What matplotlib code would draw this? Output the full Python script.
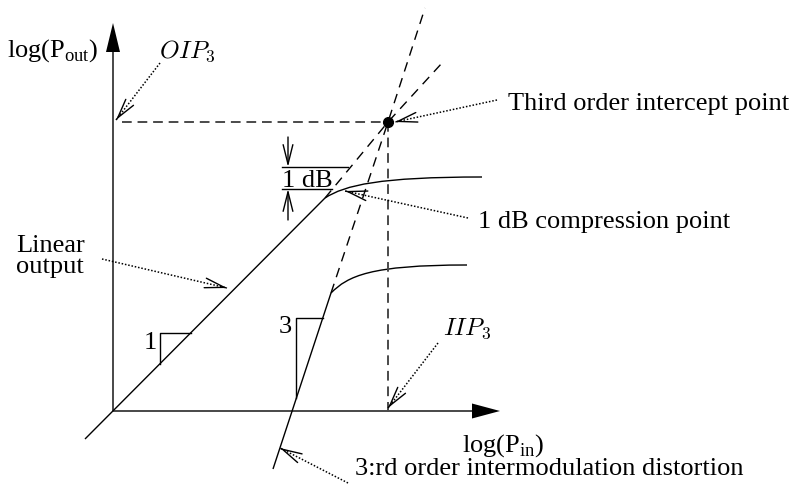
import matplotlib
matplotlib.use("Agg")
import numpy as np
import matplotlib.pyplot as plt
from matplotlib.path import Path
from matplotlib.patches import PathPatch

plt.rcParams["font.family"] = ["Liberation Serif", "DejaVu Serif"]

# ---- diagram quantities (log-power units, origin at the axes corner) ----
IIP3 = 275
OIP3 = 289

# fundamental: linear region, extrapolation and compression
fund_lin_x = [-28, 212]
fund_lin_y = [-28, 213]
fund_ext_x = [212, IIP3, 329]
fund_ext_y = [213, OIP3, 348]
fund_comp = [(212, 213), (232, 226), (267, 234), (369, 234)]

# third-order intermodulation product
im3_lin_x = [160, 218]
im3_lin_y = [-58, 118]
im3_ext_x = [218, IIP3, 312]
im3_ext_y = [118, OIP3, 403]
im3_comp = [(218, 118), (235, 135), (257, 146), (354, 146)]

# slope indicators
slope1_x = [47, 47, 78]
slope1_y = [47, 78, 78]
slope3_x = [183, 183, 210]
slope3_y = [13, 93, 93]

# 1 dB compression markers
db_upper_x, db_upper_y = [169, 235], 244
db_lower_x, db_lower_y = [169, 219], 222
db_arrow_x = 175

# axis extents
x_axis_end = 387
y_axis_end = 388

fig = plt.figure(figsize=(7.93, 4.99), dpi=100)
ax = fig.add_axes([0, 0, 1, 1])
ax.set_xlim(-113, 680)
ax.set_ylim(-88, 411)
ax.axis("off")

K = "black"
LW = 1.0

# axes with filled arrowheads
ax.arrow(0, 0, x_axis_end, 0, width=1.4, head_width=15, head_length=28,
         length_includes_head=True, fc=K, ec=K, lw=0)
ax.arrow(0, 0, 0, y_axis_end, width=1.4, head_width=14, head_length=29,
         length_includes_head=True, fc=K, ec=K, lw=0)

# intercept projection lines
grey = "#4a4a4a"
ax.plot([9, IIP3], [OIP3, OIP3], color=grey, lw=1.4, ls=(0, (5, 3)))
ax.plot([IIP3, IIP3], [OIP3, -4], color=grey, lw=1.4, ls=(0, (5, 3)))

# fundamental and third order curves
ax.plot(fund_lin_x, fund_lin_y, color=K, lw=LW, solid_capstyle="butt")
ax.plot(fund_ext_x, fund_ext_y, color=K, lw=LW, ls=(0, (7, 5)))
ax.plot(im3_lin_x, im3_lin_y, color=K, lw=LW, solid_capstyle="butt")
ax.plot(im3_ext_x, im3_ext_y, color=K, lw=LW, ls=(0, (7, 5)))
cubic = [Path.MOVETO, Path.CURVE4, Path.CURVE4, Path.CURVE4]
ax.add_patch(PathPatch(Path(fund_comp, cubic), fc="none", ec=K, lw=LW))
ax.add_patch(PathPatch(Path(im3_comp, cubic), fc="none", ec=K, lw=LW))

# intercept point
ax.plot([IIP3], [OIP3], "o", color=K, ms=7)

# slope triangles
ax.plot(slope1_x, slope1_y, color=K, lw=LW)
ax.plot(slope3_x, slope3_y, color=K, lw=LW)
ax.text(37, 68, "1", fontsize=19, ha="center", va="center")
ax.text(172, 84, "3", fontsize=19, ha="center", va="center")

# 1 dB compression marks
ax.plot(db_upper_x, [db_upper_y] * 2, color=K, lw=LW)
ax.plot(db_lower_x, [db_lower_y] * 2, color=K, lw=LW)
head = dict(arrowstyle="->,head_length=1.4,head_width=0.35", mutation_scale=10,
            color=K, lw=LW, shrinkA=0, shrinkB=0)
ax.annotate("", xy=(db_arrow_x, db_upper_y), xytext=(db_arrow_x, db_upper_y + 30),
            arrowprops=head)
ax.annotate("", xy=(db_arrow_x, db_lower_y), xytext=(db_arrow_x, db_lower_y - 31),
            arrowprops=head)
ax.text(169, 224, "1 dB", fontsize=19, ha="left", va="baseline")


def pointer(start, tip):
    """Dotted leader line ending in an open arrowhead."""
    sx, sy = start
    tx, ty = tip
    ax.plot([sx, tx], [sy, ty], color=K, lw=1.1, ls=(0, (1, 1.2)))
    d = np.hypot(tx - sx, ty - sy)
    ux, uy = (tx - sx) / d, (ty - sy) / d
    ax.annotate("", xy=(tx, ty), xytext=(tx - ux, ty - uy), arrowprops=head)


pointer((47, 348), (3, 291))
pointer((384, 311), (282, 289))
pointer((355, 193), (232, 220))
pointer((-11, 152), (114, 123))
pointer((325, 68), (275, 3))
pointer((235, -72), (167, -37))

# labels
FS = 19
ax.text(-106, 354, r"log(P$_{\mathregular{out}}$)", fontsize=FS, va="baseline")
ax.text(349, -41, r"log(P$_{\mathregular{in}}$)", fontsize=FS, va="baseline")
ax.text(46, 353, r"$OIP_3$", fontsize=18, va="baseline", math_fontfamily="cm")
ax.text(330, 76, r"$IIP_3$", fontsize=18, va="baseline", math_fontfamily="cm")
ax.text(395, 301, "Third order intercept point", fontsize=FS, va="baseline")
ax.text(365, 183, "1 dB compression point", fontsize=FS, va="baseline")
ax.text(-97, 159, "Linear", fontsize=FS, va="baseline")
ax.text(-97, 138, "output", fontsize=FS, va="baseline")
ax.text(242, -64, "3:rd order intermodulation distortion", fontsize=FS, va="baseline")

fig.savefig("out.png", dpi=100)
